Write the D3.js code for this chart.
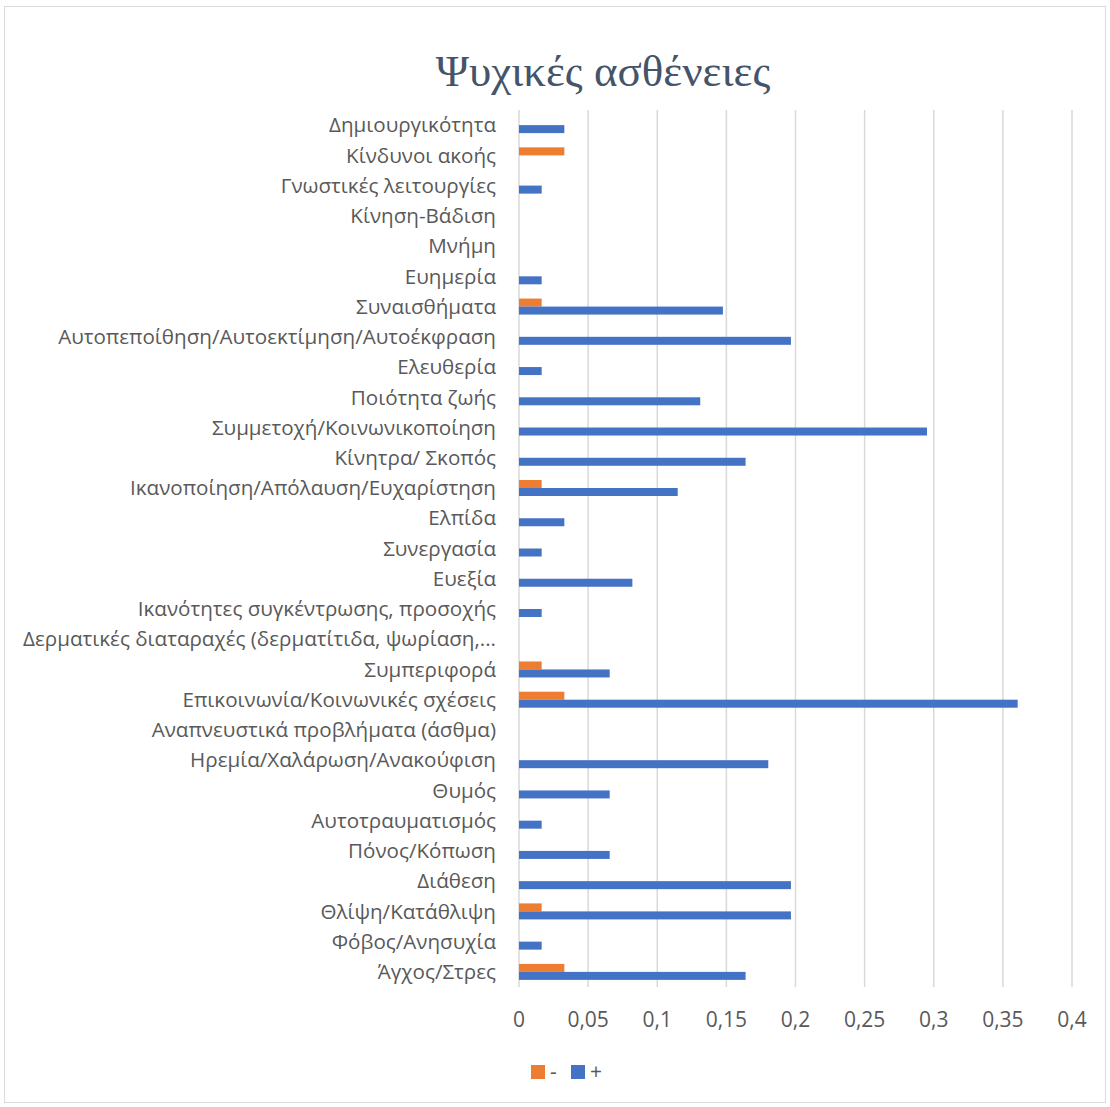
<!DOCTYPE html>
<html>
<head>
<meta charset="utf-8">
<script src="https://cdn.jsdelivr.net/npm/d3@7"></script>
<style>
  body { margin: 0; background: #fff; }
  svg text { font-family: "Open Sans", sans-serif; }
</style>
</head>
<body>
<svg id="chart" width="1110" height="1107"></svg>
<script>
// categories top to bottom
const categories = [
  "Δημιουργικότητα", "Κίνδυνοι ακοής", "Γνωστικές λειτουργίες", "Κίνηση-Βάδιση", "Μνήμη",
  "Ευημερία", "Συναισθήματα", "Αυτοπεποίθηση/Αυτοεκτίμηση/Αυτοέκφραση", "Ελευθερία",
  "Ποιότητα ζωής", "Συμμετοχή/Κοινωνικοποίηση", "Κίνητρα/ Σκοπός",
  "Ικανοποίηση/Απόλαυση/Ευχαρίστηση", "Ελπίδα", "Συνεργασία", "Ευεξία",
  "Ικανότητες συγκέντρωσης, προσοχής", "Δερματικές διαταραχές (δερματίτιδα, ψωρίαση,...",
  "Συμπεριφορά", "Επικοινωνία/Κοινωνικές σχέσεις", "Αναπνευστικά προβλήματα (άσθμα)",
  "Ηρεμία/Χαλάρωση/Ανακούφιση", "Θυμός", "Αυτοτραυματισμός", "Πόνος/Κόπωση", "Διάθεση",
  "Θλίψη/Κατάθλιψη", "Φόβος/Ανησυχία", "Άγχος/Στρες"
];
const minusValues = [0, 0.0328, 0, 0, 0, 0, 0.0164, 0, 0, 0, 0, 0, 0.0164, 0, 0, 0, 0, 0,
  0.0164, 0.0328, 0, 0, 0, 0, 0, 0, 0.0164, 0, 0.0328];
const plusValues = [0.0328, 0, 0.0164, 0, 0, 0.0164, 0.1475, 0.1967, 0.0164, 0.1311, 0.2951,
  0.1639, 0.1148, 0.0328, 0.0164, 0.082, 0.0164, 0, 0.0656, 0.3607, 0, 0.1803, 0.0656,
  0.0164, 0.0656, 0.1967, 0.1967, 0.0164, 0.1639];
const seriesNames = ["-", "+"];
const seriesColors = ["#ED7D31", "#4472C4"];
const xTicks = [0, 0.05, 0.1, 0.15, 0.2, 0.25, 0.3, 0.35, 0.4];

const svg = d3.select("#chart");
const plotLeft = 519, plotRight = 1072, plotTop = 110, plotBottom = 987;

// chart border
svg.append("rect")
  .attr("x", 4.5).attr("y", 6.5)
  .attr("width", 1101).attr("height", 1096)
  .attr("fill", "#fff").attr("stroke", "#d9d9d9").attr("stroke-width", 1);

svg.append("text")
  .attr("x", 603).attr("y", 86)
  .attr("text-anchor", "middle")
  .style("font-family", "'Liberation Serif', serif")
  .style("font-size", "45px")
  .attr("fill", "#44546A")
  .text("Ψυχικές ασθένειες");

const x = d3.scaleLinear().domain([0, 0.4]).range([plotLeft, plotRight]);
const y = d3.scaleBand().domain(categories).range([plotTop, plotBottom]);
const inner = d3.scaleBand().domain(seriesNames).range([y.bandwidth() / 2 - 8, y.bandwidth() / 2 + 8]);

// gridlines
svg.append("g")
  .selectAll("line")
  .data(xTicks)
  .join("line")
  .attr("x1", d => x(d)).attr("x2", d => x(d))
  .attr("y1", plotTop).attr("y2", plotBottom)
  .attr("stroke", "#d9d9d9").attr("stroke-width", 1.5);

const rows = categories.map((c, i) => ({ c, vals: [minusValues[i], plusValues[i]] }));

const g = svg.append("g");
g.selectAll("g")
  .data(rows)
  .join("g")
  .attr("transform", d => `translate(0,${y(d.c)})`)
  .selectAll("rect")
  .data(d => d.vals.map((v, k) => ({ v, k })).filter(e => e.v > 0))
  .join("rect")
  .attr("x", x(0))
  .attr("y", d => inner(seriesNames[d.k]))
  .attr("width", d => x(d.v) - x(0))
  .attr("height", inner.bandwidth())
  .attr("fill", d => seriesColors[d.k]);

// category labels
svg.append("g")
  .selectAll("text")
  .data(categories)
  .join("text")
  .attr("x", 496)
  .attr("y", d => y(d) + y.bandwidth() / 2)
  .attr("dy", "0.35em")
  .attr("text-anchor", "end")
  .attr("fill", "#595959")
  .style("font-size", "20.6px")
  .text(d => d);

// x axis labels
const fmt = v => String(+v.toFixed(2)).replace(".", ",");
svg.append("g")
  .selectAll("text")
  .data(xTicks)
  .join("text")
  .attr("x", d => x(d))
  .attr("y", 1020)
  .attr("dy", "0.35em")
  .attr("text-anchor", "middle")
  .attr("fill", "#595959")
  .style("font-size", "21px")
  .text(fmt);

// legend
const legend = svg.append("g").attr("transform", "translate(531,1072)");
const li = legend.selectAll("g")
  .data(seriesNames)
  .join("g")
  .attr("transform", (d, i) => `translate(${i * 40},0)`);
li.append("rect").attr("x", 0).attr("y", -7).attr("width", 14).attr("height", 14)
  .attr("fill", (d, i) => seriesColors[i]);
li.append("text").attr("x", 19).attr("y", 0).attr("dy", "0.35em")
  .attr("fill", "#595959").style("font-size", "21px").text(d => d);
</script>
</body>
</html>
